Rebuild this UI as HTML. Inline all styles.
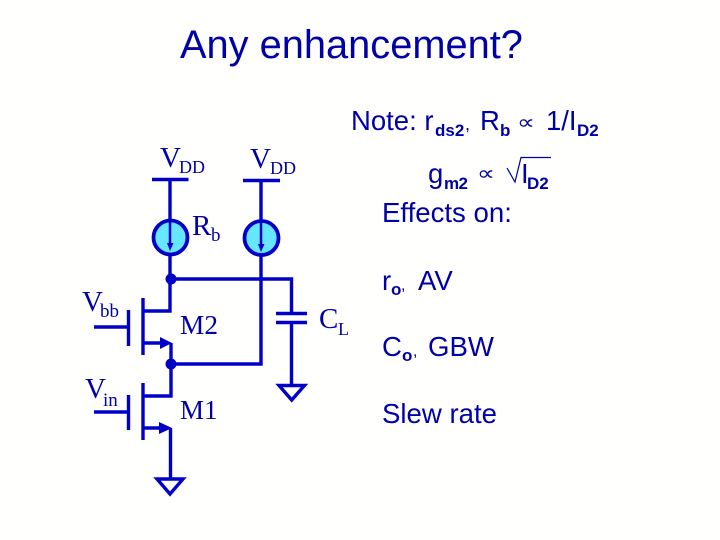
<!DOCTYPE html>
<html><head><meta charset="utf-8"><style>
html,body{margin:0;padding:0;background:#fff}
svg{display:block}
.s{font-family:"Liberation Sans",sans-serif;fill:#0000a8}
.t{font-family:"Liberation Serif",serif;fill:#0000a8}
.sub{font-weight:bold;font-size:17px}
.p{font-family:"DejaVu Sans",sans-serif;fill:#0000a8;font-size:20px}
</style></head><body>
<svg width="720" height="540" viewBox="0 0 720 540" xmlns="http://www.w3.org/2000/svg">
<rect width="720" height="540" fill="#fffffe"/>
<text class="s" x="180" y="58" font-size="39.800">Any enhancement?</text>

<text class="s" x="351" y="130" font-size="27.500">Note: r</text>
<text class="s sub" x="435" y="136">ds2</text>
<text class="s" x="465" y="130" font-size="18">,</text>
<text class="s" x="480" y="130" font-size="27.500">R</text>
<text class="s sub" x="500" y="136">b</text>
<text class="p" x="517" y="129" textLength="18" lengthAdjust="spacingAndGlyphs">∝</text>
<text class="s" x="546" y="130" font-size="27.500">1/I</text>
<text class="s sub" x="577" y="136">D2</text>

<text class="s" x="428" y="183" font-size="27.500">g</text>
<text class="s sub" x="444" y="189" textLength="24">m2</text>
<text class="p" x="477" y="180" textLength="18" lengthAdjust="spacingAndGlyphs">∝</text>
<path d="M507 168 L515 182 L521 157.500 H551" fill="none" stroke="#0000a8" stroke-width="1.200"/>
<text class="s" x="521" y="183" font-size="27.500">I</text>
<text class="s sub" x="527" y="189">D2</text>

<text class="s" x="382" y="222" font-size="27.600">Effects on:</text>
<text class="s" x="382" y="290" font-size="27.600">r</text>
<text class="s sub" x="391" y="295">o</text>
<text class="s" x="401" y="290" font-size="16">,</text>
<text class="s" x="418" y="290" font-size="27.600">AV</text>
<text class="s" x="382" y="356" font-size="27.600">C</text>
<text class="s sub" x="402" y="361">o</text>
<text class="s" x="413" y="356" font-size="16">,</text>
<text class="s" x="428" y="356" font-size="27.600">GBW</text>
<text class="s" x="382" y="423" font-size="27.600">Slew rate</text>

<text class="t" x="160" y="167" font-size="29">V</text>
<text class="t" x="179" y="173" font-size="18">DD</text>
<text class="t" x="250" y="168" font-size="29">V</text>
<text class="t" x="270" y="174" font-size="18">DD</text>
<text class="t" x="192" y="235" font-size="29">R</text>
<text class="t" x="211" y="241" font-size="19">b</text>
<text class="t" x="82" y="311" font-size="29">V</text>
<text class="t" x="100" y="317" font-size="19">bb</text>
<text class="t" x="85" y="398" font-size="29">V</text>
<text class="t" x="103" y="406" font-size="19">in</text>
<text class="t" x="180" y="334" font-size="27" textLength="38" lengthAdjust="spacingAndGlyphs">M2</text>
<text class="t" x="180" y="419" font-size="27">M1</text>
<text class="t" x="319" y="328" font-size="29">C</text>
<text class="t" x="338" y="335" font-size="18">L</text>

<g fill="none" stroke="#0000c8" stroke-width="3.4">
<!-- left supply -->
<path d="M152 179.500H188.500M170 179V220M170 254V311H143M143 298V355"/>
<circle cx="170.500" cy="237.500" r="17" fill="#66e6ff" stroke-width="3.800"/>
<path d="M170 221V245" stroke-width="2.500"/>
<!-- right supply -->
<path d="M243 180.500H280M261 180V221M261 256V364H171"/>
<circle cx="261.500" cy="238" r="17" fill="#66e6ff" stroke-width="3.800"/>
<path d="M261 222V246" stroke-width="2.500"/>
<!-- output wire / capacitor -->
<path d="M171 279H291.500V313M276 313.500H307M276 322.500H307M291.500 322V385"/>
<path d="M279 385.500H304.500L291.700 400Z"/>
<!-- M2 -->
<path d="M94 327H128M128.500 310V346M143 343H162M171 343V396H143M143 383V440"/>
<!-- M1 -->
<path d="M94 412H128M128.500 395V430M143 428H162M170.500 428V478"/>
<path d="M157 479H183L170 494Z"/>
</g>
<g fill="#0000c8">
<circle cx="171" cy="279" r="5.500"/>
<circle cx="171" cy="364" r="5.500"/>
<path d="M160 337L172 343L160 349Z"/>
<path d="M159 422L172 428L159 434Z"/>
<path d="M167 243H173.500L170 251Z"/>
<path d="M258 244H264.500L261 252Z"/>
</g>
</svg>
</body></html>
